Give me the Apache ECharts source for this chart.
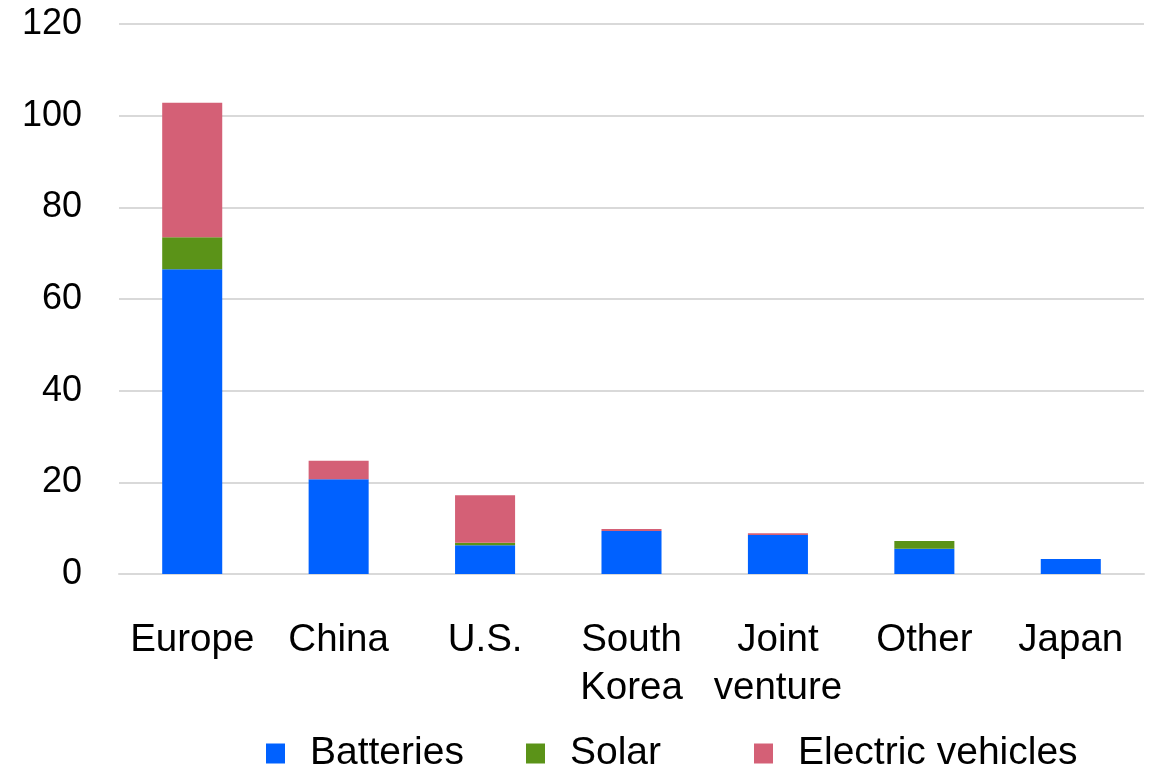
<!DOCTYPE html>
<html><head><meta charset="utf-8">
<script src="https://cdn.jsdelivr.net/npm/echarts@6/dist/echarts.min.js"></script>
<style>html,body{margin:0;padding:0;background:#fff}#c{width:1170px;height:771px}</style>
</head><body><div id="c"></div>
<script>
var categories = ['Europe', 'China', 'U.S.', 'South\nKorea', 'Joint\nventure', 'Other', 'Japan'];
var batteries = [66.5, 20.7, 6.3, 9.4, 8.5, 5.5, 3.3];
var solar = [7.0, 0, 0.5, 0, 0, 1.7, 0];
var electricVehicles = [29.3, 4.0, 10.4, 0.4, 0.4, 0, 0];
var yTicks = [0, 20, 40, 60, 80, 100, 120];
var seriesNames = ['Batteries', 'Solar', 'Electric vehicles'];

var font = 'Liberation Sans, Arial, sans-serif';
var chart = echarts.init(document.getElementById('c'));
function s(name, data, color) {
  return { name: name, type: 'bar', stack: 'total', data: data, barWidth: '41%',
    itemStyle: { color: color }, emphasis: { disabled: true } };
}
var legendLefts = [266, 526, 754];
var legends = seriesNames.map(function (n, i) {
  return {
    top: 734, left: legendLefts[i], padding: 0, itemWidth: 19, itemHeight: 20, icon: 'rect',
    textStyle: { fontFamily: font, fontSize: 39, color: '#000', padding: [0, 0, 0, 20] },
    data: [n]
  };
});
chart.setOption({
  animation: false,
  grid: { left: 119, right: 26, top: 24, bottom: 197 },
  legend: legends,
  xAxis: {
    type: 'category', data: categories,
    axisLine: { lineStyle: { color: '#d9d9d9', width: 2 } },
    axisTick: { show: false },
    axisLabel: { fontFamily: font, fontSize: 38.5, color: '#000', margin: 42, lineHeight: 48, interval: 0 }
  },
  yAxis: {
    type: 'value', min: yTicks[0], max: yTicks[yTicks.length - 1], interval: 20,
    axisLine: { show: false }, axisTick: { show: false },
    splitLine: { lineStyle: { color: '#d9d9d9', width: 2 } },
    axisLabel: { fontFamily: font, fontSize: 36, color: '#000', margin: 37 }
  },
  series: [
    s(seriesNames[0], batteries, '#0061ff'),
    s(seriesNames[1], solar, '#5b9318'),
    s(seriesNames[2], electricVehicles, '#d46076')
  ]
});
</script></body></html>
